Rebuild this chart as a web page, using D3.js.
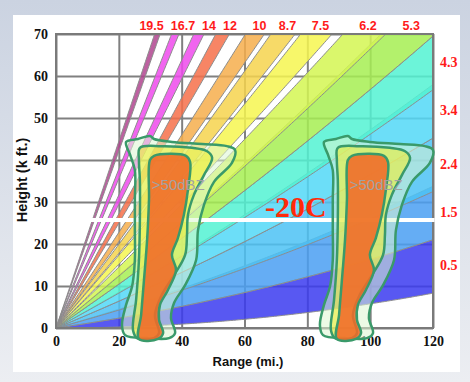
<!DOCTYPE html>
<html>
<head>
<meta charset="utf-8">
<script src="https://cdn.jsdelivr.net/npm/d3@7"></script>
<style>
body{margin:0;background:#fff;}
</style>
</head>
<body>
<script>
// beam elevation angles (deg) and their colours
var elevations = [0.5, 1.5, 2.4, 3.4, 4.3, 5.3, 6.2, 7.5, 8.7, 10, 12, 14, 16.7, 19.5];
var beamLabels = ["0.5", "1.5", "2.4", "3.4", "4.3", "5.3", "6.2", "7.5", "8.7", "10", "12", "14", "16.7", "19.5"];
var beamColors = ["#3b3bf0", "#4a9ff2", "#4cc2f5", "#52d8f7", "#52f2d2", "#a6ee52", "#d4f652",
                  "#f6f650", "#f6d44e", "#f6ae4c", "#f6704a", "#ee4aec", "#ee4aec", "#b0458f"];
var beamWidth = 1.0;

var xTicks = [0, 20, 40, 60, 80, 100, 120];
var yTicks = [0, 10, 20, 30, 40, 50, 60, 70];

// freezing level line (-20C) in kft, and its range extent
var levelHeight = 25.7;
var levelRange = [10.8, 120.5];

// storm cell outlines (range mi, height kft), first cell; second is shifted
var cellOuter = [[22.3,44.3],[26.1,45.0],[29.9,45.7],[31.2,45.0],[36.9,44.3],[46.5,43.8],[54.4,43.3],
  [57.0,42.4],[56.0,39.3],[50.3,34.8],[47.1,29.3],[45.2,23.3],[44.6,16.2],[41.1,10.2],[37.6,6.0],
  [36.6,2.4],[37.9,-1.2],[36.0,-2.4],[29.0,-2.4],[22.0,-1.7],[21.0,0.7],[22.3,5.5],[24.2,9.8],
  [25.1,16.2],[25.1,23.3],[25.1,30.5],[25.1,37.6],[23.6,41.2]];
var cellMiddle = [[26.7,42.9],[33.7,43.3],[43.3,42.9],[48.1,42.1],[49.7,40.5],[47.1,36.4],[43.9,31.7],
  [42.0,26.9],[41.7,22.1],[41.1,17.4],[37.6,12.6],[33.7,7.9],[31.5,3.1],[32.8,-1.2],[31.2,-2.4],
  [25.8,-2.4],[24.5,-0.5],[25.5,6.7],[26.4,16.2],[26.7,25.7],[26.7,35.2],[26.4,40.0]];
var cellInner = [[29.9,40.0],[31.2,41.0],[41.4,41.0],[42.7,39.5],[42.0,32.9],[40.7,26.9],[38.8,21.4],
  [36.9,17.4],[38.2,13.8],[35.6,9.0],[33.1,5.5],[32.8,1.9],[34.1,-1.2],[32.5,-2.6],[26.4,-2.6],
  [27.1,3.1],[28.0,11.4],[29.0,21.0],[29.6,30.5]];
var cellShifts = [0, 63];
var cellText = ">50dBZ";

var W = 470, H = 382;
var svg = d3.select("body").append("svg").attr("width", W).attr("height", H);

var x = d3.scaleLinear().domain([0, 120]).range([56, 433]);
var y = d3.scaleLinear().domain([0, 70]).range([328, 34]);

// beam height in kft: r in mi, 4/3 earth radius
var kftPerUnit = 6.076;
var earthR = 3959 * 4 / 3;
function beamHeight(r, deg){
  return (r * Math.tan(deg * Math.PI / 180) + r * r / (2 * earthR)) * kftPerUnit;
}
function rangeAtHeight(h, deg){
  var a = kftPerUnit / (2 * earthR);
  var b = kftPerUnit * Math.tan(deg * Math.PI / 180);
  return (-b + Math.sqrt(b * b + 4 * a * h)) / (2 * a);
}

// page background
var defs = svg.append("defs");
var grad = defs.append("linearGradient").attr("id", "bg").attr("x1", 0).attr("y1", 0).attr("x2", 0).attr("y2", 1);
grad.append("stop").attr("offset", "0%").attr("stop-color", "#cbd3e1");
grad.append("stop").attr("offset", "100%").attr("stop-color", "#eceef2");
svg.append("rect").attr("width", W).attr("height", H).attr("fill", "url(#bg)");
svg.append("rect").attr("x", 13).attr("y", 15).attr("width", 447).attr("height", 357).attr("fill", "#fff");

defs.append("clipPath").attr("id", "plot").append("rect")
  .attr("x", x(0)).attr("y", y(70)).attr("width", x(120) - x(0)).attr("height", y(0) - y(70));

// grid + tick labels
var gx = svg.append("g").attr("transform", "translate(0," + y(0) + ")")
  .call(d3.axisBottom(x).tickValues(xTicks).tickSize(-(y(0) - y(70))).tickPadding(8));
var gy = svg.append("g").attr("transform", "translate(" + x(0) + ",0)")
  .call(d3.axisLeft(y).tickValues(yTicks).tickSize(-(x(120) - x(0))).tickPadding(8));
[gx, gy].forEach(function(g){
  g.select(".domain").remove();
  g.selectAll("line").attr("stroke", "#808080").attr("stroke-width", 2);
  g.selectAll("text").attr("font-family", "Liberation Serif, serif").attr("font-weight", "bold")
    .attr("font-size", 14).attr("fill", "#111");
});

// beams
var beamG = svg.append("g").attr("clip-path", "url(#plot)");
var rs = d3.range(0, 125.5, 0.5);
elevations.forEach(function(el, i){
  var lo = el - beamWidth / 2, hi = el + beamWidth / 2;
  var pts = rs.map(function(r){ return [x(r), y(beamHeight(r, lo))]; });
  var up = rs.slice().reverse().map(function(r){ return [x(r), y(beamHeight(r, hi))]; });
  beamG.append("path")
    .attr("d", d3.line()(pts.concat(up)) + "Z")
    .attr("fill", beamColors[i]).attr("fill-opacity", 0.85)
    .attr("stroke", "#8c8c8c").attr("stroke-width", 1);
});

// frame
svg.append("rect").attr("x", x(0)).attr("y", y(70)).attr("width", x(120) - x(0)).attr("height", y(0) - y(70))
  .attr("fill", "none").attr("stroke", "#7a7a7a").attr("stroke-width", 2);

// beam labels: top ones spread apart so they do not collide
var topLabels = [];
elevations.forEach(function(el, i){
  if(el >= 5){
    var t = svg.append("text").text(beamLabels[i])
      .attr("y", 30).attr("text-anchor", "middle")
      .attr("font-family", "Liberation Sans, Arial, sans-serif")
      .attr("font-weight", "bold").attr("font-size", 12.5).attr("fill", "#ff1a1a");
    topLabels.push({node: t, cx: x(rangeAtHeight(70, el)) + 5, w: t.node().getComputedTextLength()});
  }
  else{
    svg.append("text").text(beamLabels[i])
      .attr("x", 440).attr("y", y(beamHeight(120, el)) + 4)
      .attr("font-family", "Liberation Serif, serif")
      .attr("font-weight", "bold").attr("font-size", 14).attr("fill", "#ff1a1a");
  }
});
topLabels.sort(function(a, b){ return a.cx - b.cx; });
for(var it = 0; it < 60; it++){
  for(var k = 0; k < topLabels.length - 1; k++){
    var a = topLabels[k], b = topLabels[k + 1];
    var need = (a.w + b.w) / 2 + 7;
    var d = b.cx - a.cx;
    if(d < need){
      a.cx -= (need - d) / 2;
      b.cx += (need - d) / 2;
    }
  }
}
topLabels.forEach(function(l){ l.node.attr("x", l.cx); });

// -20C level
svg.append("line")
  .attr("x1", x(levelRange[0])).attr("x2", x(levelRange[1]))
  .attr("y1", y(levelHeight)).attr("y2", y(levelHeight))
  .attr("stroke", "#fff").attr("stroke-width", 4);
svg.append("text").text("-20C")
  .attr("x", x(66.5)).attr("y", y(levelHeight) - 3)
  .attr("font-family", "Liberation Serif, serif").attr("font-weight", "bold")
  .attr("font-size", 30).attr("fill", "#ff2a0a");

// storm cells
var cellLine = d3.line().curve(d3.curveCatmullRomClosed.alpha(0.5));
var layers = [
  {pts: cellOuter, fill: "#dcf6d2", op: 0.55},
  {pts: cellMiddle, fill: "#ecf040", op: 0.65},
  {pts: cellInner, fill: "#f06a28", op: 0.88}
];
cellShifts.forEach(function(s){
  var g = svg.append("g");
  layers.forEach(function(l){
    g.append("path")
      .attr("d", cellLine(l.pts.map(function(p){ return [x(p[0] + s), y(p[1])]; })))
      .attr("fill", l.fill).attr("fill-opacity", l.op)
      .attr("stroke", "#3a9a6a").attr("stroke-width", 2.5);
  });
  g.append("text").text(cellText)
    .attr("x", x(30.5 + s)).attr("y", y(32.8))
    .attr("font-family", "Liberation Sans, Arial, sans-serif")
    .attr("font-size", 15).attr("fill", "#a2a2a2");
});

// axis titles
svg.append("text").text("Range (mi.)")
  .attr("x", 248).attr("y", 366).attr("text-anchor", "middle")
  .attr("font-family", "Liberation Sans, Arial, sans-serif").attr("font-weight", "bold")
  .attr("font-size", 13).attr("fill", "#111");
svg.append("text").text("Height (k ft.)")
  .attr("transform", "translate(27,180) rotate(-90)").attr("text-anchor", "middle")
  .attr("font-family", "Liberation Sans, Arial, sans-serif").attr("font-weight", "bold")
  .attr("font-size", 14.5).attr("fill", "#111");
</script>
</body>
</html>
